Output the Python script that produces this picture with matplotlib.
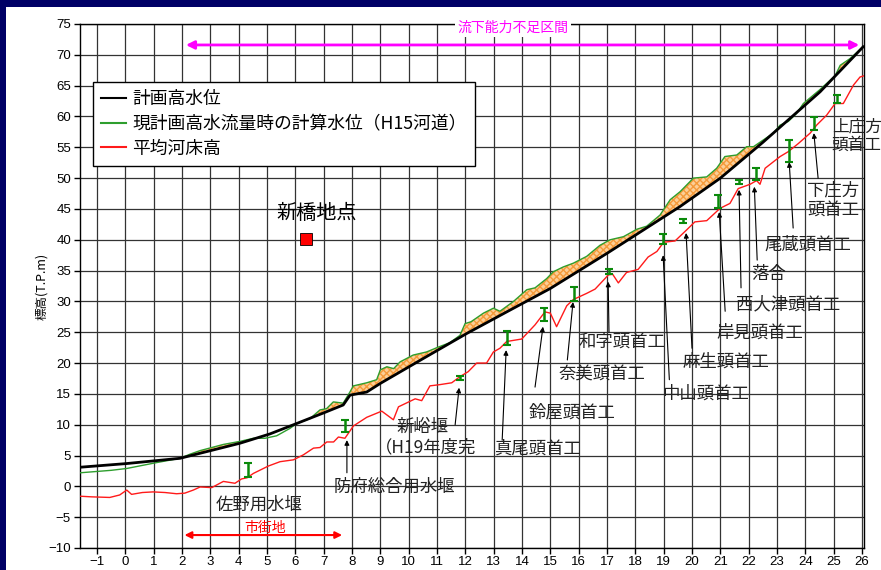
import numpy as np
import matplotlib
matplotlib.use("Agg")
import matplotlib.pyplot as plt
from matplotlib.patches import Rectangle

# ---------------- data ----------------
black_km = [-1.6, 0.05, 1.93, 3.1, 4.05, 5.1, 6.05, 6.99, 7.69, 7.93, 8.52, 9.0, 10.5,
            12.05, 13.5, 15.0, 17.0, 19.58, 21.0, 22.5, 24.52, 26.04]
black_y = [3.1, 3.7, 4.55, 5.9, 7.0, 8.5, 10.2, 11.9, 13.2, 14.8, 15.3, 16.7, 20.7,
           24.8, 28.4, 32.1, 37.8, 45.4, 50.0, 55.8, 64.0, 71.3]

green_km = [-1.6, -0.5, 0.05, 1.1, 1.93, 2.3, 2.64, 3.05, 3.46, 4.05, 4.52, 4.93, 5.34,
            5.81, 6.05, 6.52, 6.87, 7.1, 7.34, 7.69, 7.9, 8.05, 8.52, 8.87, 9.0, 9.23,
            9.47, 9.7, 10.16, 10.63, 11.05, 11.45, 11.81, 11.99, 12.2, 12.64, 12.99, 13.22,
            13.7, 14.17, 14.46, 14.87, 15.1, 15.46, 15.81, 16.28, 16.75, 17.11, 17.58,
            18.05, 18.4, 18.87, 19.23, 19.58, 20.05, 20.52, 20.87, 21.16, 21.58, 21.93,
            22.17, 22.52, 22.87, 23.11, 23.4, 23.69, 23.93, 24.5, 25.05, 25.23, 25.58, 26.04]
green_y = [2.2, 2.6, 2.9, 3.85, 4.55, 5.25, 5.8, 6.3, 6.8, 7.3, 7.8, 7.8, 8.2,
           9.4, 10.2, 11.0, 12.4, 12.6, 13.7, 13.5, 15.1, 16.3, 16.8, 17.3, 18.9, 19.4,
           19.1, 20.2, 21.3, 21.8, 22.6, 23.3, 24.5, 26.4, 26.7, 28.1, 28.9, 28.4,
           30.0, 31.9, 32.2, 33.7, 34.8, 35.6, 36.2, 37.3, 39.1, 40.0, 40.5,
           41.7, 42.2, 44.0, 46.5, 47.8, 50.0, 50.2, 51.6, 53.5, 53.75, 55.1,
           55.1, 56.2, 57.3, 58.6, 59.2, 60.5, 62.1, 64.3, 66.6, 68.3, 69.4, 71.3]

red_km = [-1.6, -1.2, -0.55, -0.2, 0.05, 0.22, 0.6, 0.98, 1.4, 1.81, 2.1, 2.4, 2.64, 3.05,
          3.46, 3.87, 4.1, 4.3, 4.52, 5.05, 5.46, 5.93, 6.28, 6.64, 6.87, 7.11, 7.35, 7.52,
          7.75, 8.05, 8.52, 9.05, 9.46, 9.64, 10.23, 10.46, 10.75, 11.1, 11.52, 11.81,
          12.1, 12.4, 12.75, 12.99, 13.22, 13.46, 13.99, 14.46, 14.81, 15.0, 15.22, 15.58,
          15.81, 16.28, 16.58, 17.05, 17.2, 17.4, 17.69, 18.1, 18.45, 18.76, 19.0, 19.4,
          19.81, 20.1, 20.52, 20.99, 21.34, 21.63, 22.05, 22.28, 22.4, 22.58, 23.11, 23.4,
          23.75, 24.17, 24.4, 24.75, 25.05, 25.34, 25.7, 25.93, 26.07]
red_y = [-1.6, -1.7, -1.8, -1.4, -0.6, -1.3, -1.0, -0.9, -1.0, -1.2, -1.1, -0.6, -0.1, -0.2,
         0.8, 0.5, 1.2, 1.4, 2.1, 3.3, 4.0, 4.3, 5.1, 6.2, 6.3, 7.2, 7.2, 8.0,
         7.8, 9.8, 11.2, 12.2, 10.8, 12.9, 14.2, 13.9, 16.3, 16.5, 16.8, 17.8,
         18.6, 20.0, 20.0, 21.8, 22.4, 23.5, 23.9, 26.2, 28.3, 28.1, 25.9, 29.3,
         30.3, 31.3, 32.0, 34.3, 34.4, 33.0, 34.7, 35.2, 37.2, 38.1, 39.6, 39.8,
         41.6, 42.9, 43.1, 45.1, 45.9, 48.3, 49.0, 49.6, 49.0, 51.6, 53.5, 54.3,
         55.6, 57.3, 58.6, 60.2, 62.1, 62.1, 65.1, 66.4, 66.6]

# weir crest ranges (green I bars)
weir_km = [4.32, 7.75, 11.8, 13.47, 14.78, 15.84, 17.07, 18.98, 19.69, 20.9, 21.66, 22.26,
           23.43, 24.3, 25.1]
weir_lo = [1.5, 8.8, 17.3, 22.9, 26.8, 30.1, 34.5, 39.3, 42.7, 45.2, 49.0, 49.7, 52.6, 57.8, 62.2]
weir_hi = [3.8, 10.8, 17.9, 25.2, 28.9, 32.3, 35.3, 40.9, 43.4, 47.3, 49.7, 51.6, 56.2, 59.9, 63.5]

legend_labels = ["計画高水位", "現計画高水流量時の計算水位（H15河道）", "平均河床高"]
x_ticks = list(range(-1, 27))
y_ticks = list(range(-10, 80, 5))

# annotations: text, text position, arrow tail, arrow tip
annots = [
    ("佐野用水堰", (4.72, -3.0), None, None),
    ("防府総合用水堰", (9.48, -0.1), (7.82, 2.2), (7.82, 7.5)),
    ("新峪堰", (10.5, 9.6), (11.64, 10.0), (11.78, 16.0)),
    ("（H19年度完", (10.58, 6.4), None, None),
    ("真尾頭首工", (14.53, 6.2), (13.3, 7.5), (13.44, 22.1)),
    ("鈴屋頭首工", (15.77, 11.9), (14.46, 16.1), (14.74, 25.9)),
    ("奈美頭首工", (16.83, 18.1), (15.6, 20.5), (15.8, 29.9)),
    ("和字頭首工", (17.53, 23.4), (17.07, 25.0), (17.04, 33.2)),
    ("中山頭首工", (20.5, 15.1), (19.2, 17.3), (18.98, 37.5)),
    ("麻生頭首工", (21.2, 20.2), (20.0, 22.4), (19.79, 41.1)),
    ("岸見頭首工", (22.4, 25.0), (21.17, 28.4), (20.96, 44.5)),
    ("西大津頭首工", (23.4, 29.6), (21.73, 32.2), (21.66, 48.1)),
    ("落合", (22.7, 34.4), (22.3, 36.7), (22.2, 48.6)),
    ("尾蔵頭首工", (24.1, 39.2), (23.57, 41.9), (23.43, 52.6)),
    ("下庄方\n頭首工", (24.98, 46.5), (24.45, 50.0), (24.3, 57.3)),
    ("上庄方\n頭首工", (24.93, 56.8), None, None),
]

# ---------------- figure ----------------
JP = ["Noto Sans CJK JP", "DejaVu Sans"]
plt.rcParams["font.family"] = ["Liberation Sans", "Noto Sans CJK JP", "DejaVu Sans"]

fig = plt.figure(figsize=(8.81, 5.70), dpi=100, facecolor="#000066")
fig.patches.append(Rectangle((6 / 881, 0), 1, 1 - 7 / 570, transform=fig.transFigure,
                             facecolor="white", edgecolor="none", zorder=-10))
ax = fig.add_axes([80 / 881, 22 / 570, 784 / 881, 524 / 570])
ax.set_zorder(1)
ax.set_facecolor("white")

ax.set_xlim(-1.6, 26.07)
ax.set_ylim(-10, 75)
ax.set_xticks(x_ticks)
ax.set_yticks(y_ticks)
ax.tick_params(labelsize=9.5, direction="out", length=4, width=1, colors="black")
ax.tick_params(axis="x", pad=1.5)
ax.tick_params(axis="y", pad=2.5)
ax.grid(True, color="#333333", linewidth=0.9)
ax.set_axisbelow(True)
for s in ax.spines.values():
    s.set_color("black")
    s.set_linewidth(1.0)
ax.set_ylabel("標高(T.P.m)", family=JP, fontsize=9)
ax.yaxis.set_label_coords(-0.041, 0.5)

# orange fill where computed water level exceeds planned
bk = np.interp(green_km, black_km, black_y)
gk = np.array(green_y)
ax.fill_between(green_km, bk, gk, where=gk >= bk, interpolate=True,
                facecolor="#FCCF98", edgecolor="#F59A3A", hatch="xxxxx", linewidth=0, zorder=2)

ax.plot(black_km, black_y, color="black", lw=2.0, zorder=4, label=legend_labels[0])
ax.plot(green_km, green_y, color="#2E9E2E", lw=1.0, zorder=3, label=legend_labels[1])
ax.plot(red_km, red_y, color="#FF1A1A", lw=1.0, zorder=3, label=legend_labels[2])

mid = [(a + b) / 2 for a, b in zip(weir_lo, weir_hi)]
err = [(b - a) / 2 for a, b in zip(weir_lo, weir_hi)]
ax.errorbar(weir_km, mid, yerr=err, fmt="none", ecolor="#0A8A0A", elinewidth=1.8,
            capsize=3, capthick=1.5, zorder=5)

leg = ax.legend(loc="upper left", bbox_to_anchor=(0.0166, 0.889), borderaxespad=0,
                prop={"family": JP, "size": 12.8},
                frameon=True, fancybox=False, edgecolor="black", framealpha=1,
                handlelength=1.4, borderpad=0.45, labelspacing=0.38, handletextpad=0.35)
leg.get_frame().set_linewidth(1.0)
for h in leg.get_lines():
    h.set_linewidth(1.5)

# Shinbashi point
ax.plot([6.38], [40.1], marker="s", markersize=9, color="red", markeredgecolor="black",
        markeredgewidth=0.6, zorder=6)
ax.text(6.75, 44.3, "新橋地点", family=JP, fontsize=14.5, ha="center", va="center", zorder=6)

# arrows
ax.annotate("", xy=(2.04, 71.6), xytext=(26.0, 71.6),
            arrowprops=dict(arrowstyle="<|-|>", color="#FF00FF", lw=2, mutation_scale=12), zorder=6)
ax.text(13.68, 74.35, "流下能力不足区間", family=JP, fontsize=10, color="#FF00FF",
        ha="center", va="center", zorder=7,
        bbox=dict(facecolor="white", edgecolor="none", pad=1.5))
ax.annotate("", xy=(1.99, -7.9), xytext=(7.75, -7.9),
            arrowprops=dict(arrowstyle="<|-|>", color="#FF0000", lw=1.5, mutation_scale=10), zorder=6)
ax.text(4.93, -6.75, "市街地", family=JP, fontsize=10, color="#FF0000",
        ha="center", va="center", zorder=7)

for txt, tpos, tail, tip in annots:
    left = txt.startswith("上庄方")
    ax.text(tpos[0], tpos[1], txt, family=JP, fontsize=12 if left else 12.5,
            ha="left" if left else "center", va="center", linespacing=1.1, zorder=7,
            clip_on=False, color="#222222")
    if tail is not None:
        ax.annotate("", xy=tip, xytext=tail,
                    arrowprops=dict(arrowstyle="-|>", color="black", lw=0.8, mutation_scale=7,
                                    shrinkA=0, shrinkB=0), zorder=7)

fig.savefig("out.png", dpi=100, facecolor=fig.get_facecolor())
